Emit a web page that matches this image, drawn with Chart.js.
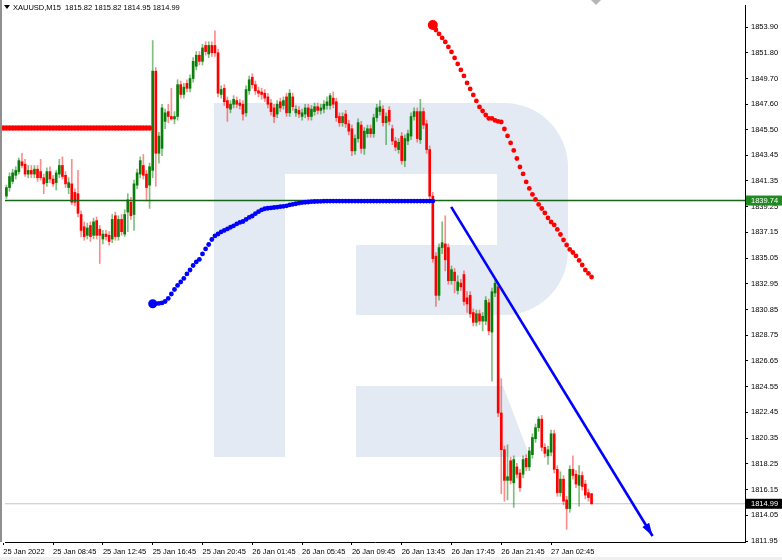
<!DOCTYPE html>
<html>
<head>
<meta charset="utf-8">
<script src="https://cdn.jsdelivr.net/npm/chart.js@4.4.1/dist/chart.umd.min.js"></script>
<style>
  html, body { margin: 0; padding: 0; background: #fff; }
  #wrap { width: 782px; height: 560px; }
</style>
</head>
<body>
<div id="wrap"><canvas id="chart"></canvas></div>
<script>
// XAUUSD M15 candles, bar index 0..189
const opens = [
  1839.3, 1840.1, 1840.8, 1841.3, 1841.8, 1842.1, 1842.9, 1842.7, 1841.9, 1842.2,
  1841.9, 1842.3, 1842.1, 1841.6, 1841.2, 1842.1, 1841.5, 1841.2, 1841.9, 1842.6,
  1841.8, 1840.8, 1841.1, 1840.4, 1840.3, 1838.6, 1837.6, 1836.9, 1837.7, 1836.9,
  1838.1, 1837.4, 1836.6, 1837.0, 1836.9, 1836.6, 1838.5, 1836.8, 1838.2, 1837.0,
  1838.8, 1839.6, 1838.6, 1841.0, 1841.9, 1842.6, 1841.9, 1841.0, 1842.2, 1850.3,
  1843.6, 1844.0, 1846.2, 1847.0, 1846.6, 1846.4, 1846.6, 1849.2, 1848.4, 1849.3,
  1848.9, 1849.7, 1850.7, 1851.6, 1851.1, 1852.4, 1851.7, 1852.4, 1852.4, 1851.8,
  1848.4, 1848.9, 1847.9, 1847.2, 1847.6, 1847.9, 1847.7, 1847.6, 1846.9, 1848.7,
  1849.8, 1849.2, 1848.7, 1848.6, 1848.5, 1848.2, 1847.7, 1847.3, 1846.8, 1847.8,
  1847.5, 1848.2, 1846.9, 1848.2, 1846.9, 1847.1, 1846.6, 1846.8, 1847.3, 1846.6,
  1847.0, 1847.4, 1847.1, 1847.2, 1847.5, 1847.5, 1848.1, 1847.8, 1846.6, 1846.1,
  1846.8, 1846.0, 1845.6, 1843.8, 1844.8, 1845.9, 1844.0, 1845.2, 1845.6, 1845.2,
  1846.5, 1847.0, 1847.2, 1846.1, 1847.1, 1845.6, 1844.6, 1843.9, 1845.0, 1843.0,
  1844.6, 1845.0, 1846.6, 1847.0, 1844.7, 1847.0, 1846.0, 1843.9, 1840.1, 1835.2,
  1832.0, 1835.9, 1836.2, 1835.9, 1833.2, 1833.9, 1832.4, 1833.0, 1833.7, 1831.8,
  1832.0, 1830.6, 1829.8, 1830.5, 1829.9, 1829.9, 1831.4, 1829.0, 1832.2, 1832.7,
  1822.4, 1819.4, 1816.9, 1818.5, 1816.7, 1818.0, 1817.5, 1817.4, 1818.7, 1818.0,
  1819.0, 1820.3, 1821.2, 1821.9, 1819.6, 1818.9, 1819.2, 1820.7, 1817.8, 1815.9,
  1817.0, 1815.3, 1814.6, 1817.8, 1817.4, 1816.5, 1817.3, 1816.6, 1815.9, 1815.82
];
const highs = [
  1840.3, 1841.0, 1842.0, 1842.3, 1842.5, 1843.2, 1843.6, 1843.1, 1842.6, 1842.6,
  1842.6, 1842.6, 1843.1, 1841.9, 1842.4, 1842.5, 1841.8, 1842.2, 1843.1, 1843.3,
  1842.1, 1841.6, 1843.1, 1840.7, 1842.2, 1838.9, 1838.0, 1837.9, 1838.0, 1838.3,
  1838.4, 1837.7, 1837.3, 1837.3, 1837.2, 1838.6, 1838.8, 1838.5, 1838.6, 1839.0,
  1840.3, 1840.0, 1841.4, 1842.3, 1843.3, 1843.5, 1842.2, 1842.8, 1852.8, 1850.6,
  1845.3, 1847.6, 1847.2, 1847.6, 1848.9, 1847.0, 1849.6, 1849.5, 1849.3, 1849.6,
  1850.0, 1851.4, 1851.9, 1851.9, 1852.5, 1852.7, 1852.7, 1852.7, 1853.6, 1852.1,
  1849.1, 1849.2, 1848.2, 1847.9, 1848.3, 1848.2, 1848.0, 1847.9, 1849.1, 1849.9,
  1850.1, 1849.5, 1849.0, 1848.9, 1848.8, 1848.5, 1848.0, 1847.6, 1847.9, 1848.1,
  1848.2, 1848.5, 1848.8, 1848.5, 1847.5, 1847.4, 1847.2, 1847.6, 1847.6, 1847.5,
  1847.7, 1847.7, 1847.6, 1847.9, 1848.2, 1848.5, 1848.6, 1848.1, 1846.9, 1846.9,
  1847.1, 1846.3, 1845.9, 1845.1, 1846.4, 1846.2, 1845.7, 1845.9, 1845.9, 1846.8,
  1847.6, 1847.9, 1847.5, 1846.9, 1847.4, 1845.9, 1844.9, 1844.8, 1845.3, 1845.1,
  1845.5, 1846.9, 1847.3, 1847.3, 1848.0, 1847.3, 1846.3, 1844.2, 1840.4, 1835.5,
  1836.2, 1838.0, 1838.5, 1836.2, 1834.4, 1834.2, 1833.6, 1833.3, 1834.0, 1832.3,
  1832.3, 1830.9, 1830.8, 1830.8, 1830.6, 1831.9, 1831.7, 1832.6, 1833.4, 1833.0,
  1825.2, 1819.7, 1819.8, 1818.8, 1818.9, 1818.3, 1817.8, 1818.9, 1819.0, 1819.6,
  1820.7, 1821.5, 1822.1, 1822.2, 1819.9, 1819.7, 1821.0, 1821.0, 1818.1, 1817.6,
  1817.3, 1815.6, 1818.1, 1818.9, 1817.7, 1818.1, 1817.6, 1816.9, 1816.2, 1815.82
];
const lows = [
  1838.9, 1839.9, 1840.5, 1841.1, 1841.5, 1841.9, 1842.4, 1841.7, 1841.6, 1841.6,
  1841.6, 1841.3, 1841.4, 1840.3, 1840.9, 1841.2, 1840.9, 1840.6, 1841.6, 1841.5,
  1840.8, 1840.3, 1839.4, 1839.3, 1838.4, 1836.8, 1836.5, 1836.6, 1836.4, 1836.6,
  1836.6, 1834.6, 1836.2, 1836.5, 1836.1, 1836.3, 1836.5, 1836.5, 1836.9, 1836.8,
  1837.2, 1838.2, 1837.3, 1840.7, 1841.6, 1841.5, 1839.7, 1839.1, 1841.6, 1840.9,
  1842.8, 1843.4, 1845.6, 1846.1, 1846.3, 1846.0, 1846.3, 1848.1, 1848.1, 1848.6,
  1848.6, 1849.4, 1850.4, 1850.8, 1850.8, 1851.6, 1851.4, 1851.5, 1851.5, 1848.2,
  1848.1, 1847.5, 1846.2, 1846.9, 1847.3, 1847.3, 1847.2, 1846.3, 1846.6, 1848.4,
  1848.9, 1848.4, 1848.2, 1848.0, 1847.8, 1847.3, 1846.7, 1846.1, 1846.5, 1847.0,
  1847.2, 1846.6, 1846.6, 1847.1, 1846.6, 1846.5, 1846.3, 1846.5, 1846.3, 1846.3,
  1846.7, 1846.8, 1846.8, 1846.9, 1847.2, 1847.2, 1847.3, 1846.2, 1845.8, 1845.8,
  1845.7, 1845.1, 1843.4, 1843.5, 1844.5, 1843.6, 1843.5, 1844.9, 1844.9, 1844.9,
  1846.2, 1846.7, 1845.8, 1844.3, 1845.9, 1844.3, 1843.8, 1843.6, 1842.7, 1842.5,
  1844.3, 1844.7, 1846.3, 1844.5, 1844.4, 1845.6, 1843.6, 1839.8, 1834.7, 1831.1,
  1831.6, 1835.4, 1834.0, 1832.9, 1832.9, 1832.2, 1832.1, 1832.4, 1831.2, 1830.6,
  1830.2, 1829.5, 1829.5, 1829.6, 1829.1, 1829.6, 1828.8, 1825.0, 1831.9, 1822.1,
  1815.8, 1815.2, 1815.3, 1816.6, 1814.7, 1817.1, 1816.0, 1817.1, 1817.7, 1817.7,
  1818.7, 1820.0, 1820.9, 1819.3, 1818.8, 1818.2, 1818.9, 1817.5, 1815.6, 1815.6,
  1814.9, 1812.9, 1814.3, 1817.0, 1816.3, 1814.8, 1816.1, 1815.4, 1815.2, 1814.95
];
const closes = [
  1840.1, 1840.8, 1841.7, 1842.0, 1842.2, 1843.0, 1842.6, 1841.9, 1842.2, 1841.9,
  1842.3, 1841.6, 1841.6, 1841.1, 1842.1, 1841.5, 1841.1, 1842.0, 1842.6, 1841.7,
  1841.1, 1841.2, 1839.6, 1839.6, 1838.7, 1837.3, 1836.8, 1837.5, 1836.8, 1838.0,
  1836.9, 1836.9, 1837.0, 1836.8, 1836.4, 1838.2, 1836.8, 1838.2, 1837.2, 1838.6,
  1839.8, 1838.5, 1841.1, 1842.0, 1843.0, 1841.8, 1840.8, 1842.5, 1850.3, 1843.6,
  1845.0, 1847.3, 1846.9, 1846.6, 1846.4, 1846.6, 1849.2, 1848.4, 1849.0, 1848.9,
  1849.7, 1851.1, 1851.6, 1851.1, 1852.2, 1851.9, 1852.4, 1851.8, 1851.8, 1848.5,
  1848.8, 1847.8, 1847.3, 1847.6, 1848.0, 1847.6, 1847.5, 1846.8, 1848.8, 1849.6,
  1849.2, 1848.7, 1848.5, 1848.4, 1848.1, 1847.6, 1847.0, 1846.6, 1847.6, 1847.3,
  1847.9, 1846.9, 1848.5, 1847.4, 1847.2, 1846.8, 1846.9, 1847.3, 1846.6, 1847.2,
  1847.4, 1847.1, 1847.3, 1847.6, 1847.8, 1848.3, 1847.6, 1846.5, 1846.1, 1846.6,
  1846.0, 1845.4, 1843.8, 1844.8, 1846.1, 1844.0, 1845.4, 1845.6, 1845.2, 1846.5,
  1847.3, 1847.4, 1846.1, 1846.6, 1846.2, 1844.6, 1844.1, 1844.5, 1843.0, 1844.8,
  1845.2, 1846.6, 1847.0, 1844.8, 1847.0, 1845.9, 1843.9, 1840.1, 1835.0, 1832.0,
  1835.9, 1836.3, 1834.9, 1833.2, 1834.1, 1833.2, 1833.1, 1832.7, 1831.5, 1831.3,
  1830.5, 1829.8, 1830.5, 1829.9, 1830.3, 1831.6, 1829.1, 1832.3, 1833.0, 1822.4,
  1819.4, 1816.9, 1817.2, 1816.9, 1818.6, 1817.4, 1816.3, 1818.6, 1818.0, 1819.3,
  1820.4, 1821.2, 1821.9, 1819.6, 1819.1, 1819.4, 1820.7, 1817.8, 1815.9, 1817.0,
  1815.2, 1814.6, 1817.8, 1817.3, 1816.6, 1817.3, 1816.4, 1815.7, 1815.5, 1814.99
];

// time axis: a label every 16 bars
const tickBars = [0, 16, 32, 48, 64, 80, 96, 112, 128, 144, 160, 176];
const tickLabels = ["25 Jan 2022", "25 Jan 08:45", "25 Jan 12:45", "25 Jan 16:45", "25 Jan 20:45", "26 Jan 01:45",
                    "26 Jan 05:45", "26 Jan 09:45", "26 Jan 13:45", "26 Jan 17:45", "26 Jan 21:45", "27 Jan 02:45"];
const priceTicks = [1811.95, 1814.05, 1816.15, 1818.25, 1820.35, 1822.45, 1824.55, 1826.65, 1828.75, 1830.85, 1832.95,
                    1835.05, 1837.15, 1839.25, 1841.35, 1843.45, 1845.50, 1847.60, 1849.70, 1851.80, 1853.90];

// red level (bars 0..47)
const levelStart = 0;
const levelDots = [
  1845.66, 1845.66, 1845.66, 1845.66, 1845.66, 1845.66, 1845.66, 1845.66, 1845.66, 1845.66, 1845.66, 1845.66,
  1845.66, 1845.66, 1845.66, 1845.66, 1845.66, 1845.66, 1845.66, 1845.66, 1845.66, 1845.66, 1845.66, 1845.66,
  1845.66, 1845.66, 1845.66, 1845.66, 1845.66, 1845.66, 1845.66, 1845.66, 1845.66, 1845.66, 1845.66, 1845.66,
  1845.66, 1845.66, 1845.66, 1845.66, 1845.66, 1845.66, 1845.66, 1845.66, 1845.66, 1845.66, 1845.66, 1845.66
];
// blue dotted curve (bars 48..138)
const blueStart = 48;
const blueDots = [
  1831.32, 1831.32, 1831.34, 1831.38, 1831.50, 1831.75, 1832.11, 1832.48, 1832.81, 1833.09,
  1833.38, 1833.75, 1834.07, 1834.44, 1834.73, 1834.93, 1835.38, 1835.79, 1836.15, 1836.56,
  1836.85, 1837.01, 1837.18, 1837.30, 1837.42, 1837.56, 1837.68, 1837.83, 1837.95, 1838.03,
  1838.20, 1838.36, 1838.48, 1838.67, 1838.83, 1838.97, 1839.07, 1839.11, 1839.14, 1839.17,
  1839.20, 1839.24, 1839.27, 1839.31, 1839.38, 1839.43, 1839.48, 1839.53, 1839.57, 1839.60,
  1839.62, 1839.65, 1839.66, 1839.67, 1839.68, 1839.69, 1839.70, 1839.70, 1839.70, 1839.70,
  1839.70, 1839.70, 1839.70, 1839.70, 1839.70, 1839.70, 1839.70, 1839.70, 1839.70, 1839.70,
  1839.70, 1839.70, 1839.70, 1839.70, 1839.70, 1839.70, 1839.70, 1839.70, 1839.70, 1839.70,
  1839.70, 1839.70, 1839.70, 1839.70, 1839.70, 1839.70, 1839.70, 1839.70, 1839.70, 1839.70,
  1839.70
];
// red dotted curve (bars 138..189)
const redStart = 138;
const redDots = [
  1854.07, 1853.66, 1853.34, 1853.01, 1852.69, 1852.28, 1851.87, 1851.38, 1850.89, 1850.40,
  1849.91, 1849.34, 1848.85, 1848.36, 1847.87, 1847.38, 1847.05, 1846.72, 1846.44, 1846.44,
  1846.28, 1846.20, 1846.15, 1845.58, 1845.01, 1844.44, 1843.83, 1843.17, 1842.48, 1841.91,
  1841.26, 1840.73, 1840.24, 1839.83, 1839.42, 1839.09, 1838.73, 1838.32, 1837.99, 1837.75,
  1837.38, 1836.97, 1836.52, 1836.11, 1835.75, 1835.50, 1835.22, 1834.85, 1834.48, 1834.07,
  1833.79, 1833.50
];

const greenLevel = 1839.74;
const lastPrice = 1814.99;
const arrowFrom = [143.9, 1839.22];
const arrowTo = [208.6, 1812.36];
const titleText = "XAUUSD,M15  1815.82 1815.82 1814.95 1814.99";

const X_MIN = 0.55, X_MAX = 238.3;
const FONT = { family: "'Liberation Sans', Arial, sans-serif", size: 7.5 };

const up = opens.map((o, i) => closes[i] >= o);
const dots = (start, arr) => arr.map((v, i) => ({ x: start + i, y: v }));
const noPad = s => { s.paddingTop = 0; s.paddingBottom = 0; s.paddingLeft = 0; s.paddingRight = 0; };

// watermark logo behind the candles
const logoPlugin = {
  id: "logo",
  beforeDatasetsDraw(chart) {
    const ctx = chart.ctx, r = 64;
    ctx.save();
    ctx.fillStyle = "#e4eaf3";
    ctx.beginPath();
    ctx.moveTo(214, 103);
    ctx.lineTo(568 - r, 103);
    ctx.arcTo(568, 103, 568, 103 + r, r);
    ctx.lineTo(568, 315 - r);
    ctx.arcTo(568, 315, 568 - r, 315, r);
    ctx.lineTo(356, 315);
    ctx.lineTo(356, 245);
    ctx.lineTo(497, 245);
    ctx.lineTo(497, 174);
    ctx.lineTo(285, 174);
    ctx.lineTo(285, 457);
    ctx.lineTo(214, 457);
    ctx.closePath();
    ctx.fill();
    ctx.beginPath();
    ctx.moveTo(356, 386);
    ctx.lineTo(503, 386);
    ctx.lineTo(530, 457);
    ctx.lineTo(356, 457);
    ctx.closePath();
    ctx.fill();
    ctx.restore();
  }
};

// white page, title, frame, price tags, arrow head
const overlayPlugin = {
  id: "overlay",
  beforeDraw(chart) {
    const ctx = chart.ctx;
    ctx.save();
    ctx.fillStyle = "#fff";
    ctx.fillRect(0, 0, chart.width, chart.height);
    ctx.fillStyle = "#f0f0f0";
    ctx.fillRect(0, 557, chart.width, 3);
    ctx.restore();
  },
  afterDraw(chart) {
    const ctx = chart.ctx, xs = chart.scales.x, ys = chart.scales.y;
    const area = chart.chartArea;
    ctx.save();

    // arrow head
    const x0 = xs.getPixelForValue(arrowFrom[0]), y0 = ys.getPixelForValue(arrowFrom[1]);
    const x1 = xs.getPixelForValue(arrowTo[0]), y1 = ys.getPixelForValue(arrowTo[1]);
    const ang = Math.atan2(y1 - y0, x1 - x0);
    ctx.fillStyle = "#0000ff";
    ctx.beginPath();
    ctx.moveTo(x1, y1);
    ctx.lineTo(x1 - 13 * Math.cos(ang) + 4 * Math.sin(ang), y1 - 13 * Math.sin(ang) - 4 * Math.cos(ang));
    ctx.lineTo(x1 - 13 * Math.cos(ang) - 4 * Math.sin(ang), y1 - 13 * Math.sin(ang) + 4 * Math.cos(ang));
    ctx.closePath();
    ctx.fill();

    // left frame
    ctx.fillStyle = "#8f8f8f";
    ctx.fillRect(0, 0, 2, area.bottom);

    // chart shift marker
    ctx.fillStyle = "#b5b5b5";
    ctx.beginPath();
    ctx.moveTo(591, 0); ctx.lineTo(601, 0); ctx.lineTo(596, 5);
    ctx.closePath();
    ctx.fill();

    // title
    ctx.fillStyle = "#000";
    ctx.beginPath();
    ctx.moveTo(4, 5); ctx.lineTo(10, 5); ctx.lineTo(7, 9);
    ctx.closePath();
    ctx.fill();
    ctx.font = "7.5px 'Liberation Sans', Arial, sans-serif";
    ctx.textBaseline = "middle";
    ctx.fillText(titleText, 13, 7.5);

    // price tags on the axis
    const tag = (v, bg) => {
      const y = ys.getPixelForValue(v);
      ctx.fillStyle = bg;
      ctx.fillRect(area.right + 1, y - 5, 36, 10);
      ctx.fillStyle = "#fff";
      ctx.textAlign = "left";
      ctx.fillText(v.toFixed(2), area.right + 6, y + 0.5);
    };
    tag(greenLevel, "#1f8a1f");
    tag(lastPrice, "#000");
    ctx.restore();
  }
};

new Chart(document.getElementById("chart"), {
  type: "bar",
  data: {
    datasets: [
      {
        label: "wicks",
        data: lows.map((l, i) => ({ x: i, y: [l, highs[i]] })),
        backgroundColor: up.map(u => u ? "rgba(0,128,0,0.5)" : "rgba(255,0,0,0.45)"),
        barThickness: 1,
        grouped: false,
        order: 6
      },
      {
        label: "bodies",
        data: opens.map((o, i) => ({ x: i, y: [o, closes[i]] })),
        backgroundColor: up.map(u => u ? "#0b7d0b" : "#ff0000"),
        barThickness: 2,
        minBarLength: 1,
        grouped: false,
        order: 5
      },
      {
        type: "line",
        label: "price",
        data: [{ x: X_MIN, y: lastPrice }, { x: X_MAX, y: lastPrice }],
        borderColor: "#c4c4c4",
        borderWidth: 1,
        pointRadius: 0,
        order: 7
      },
      {
        type: "line",
        label: "level",
        data: [{ x: X_MIN, y: greenLevel }, { x: X_MAX, y: greenLevel }],
        borderColor: "#176617",
        borderWidth: 1.6,
        pointRadius: 0,
        order: 4
      },
      {
        type: "line",
        label: "red level",
        data: dots(levelStart, levelDots),
        showLine: false,
        pointRadius: 2.7,
        pointBackgroundColor: "#ff0000",
        pointBorderWidth: 0,
        clip: false,
        order: 3
      },
      {
        type: "line",
        label: "blue dots",
        data: dots(blueStart, blueDots),
        showLine: false,
        pointRadius: blueDots.map((v, i) => i === 0 ? 4.5 : 2.4),
        pointBackgroundColor: "#0000ff",
        pointBorderWidth: 0,
        order: 2
      },
      {
        type: "line",
        label: "red dots",
        data: dots(redStart, redDots),
        showLine: false,
        pointRadius: redDots.map((v, i) => i === 0 ? 5 : 2.4),
        pointBackgroundColor: "#ff0000",
        pointBorderWidth: 0,
        order: 2
      },
      {
        type: "line",
        label: "arrow",
        data: [{ x: arrowFrom[0], y: arrowFrom[1] }, { x: arrowTo[0], y: arrowTo[1] }],
        borderColor: "#0000ff",
        borderWidth: 2.6,
        pointRadius: 0,
        order: 1
      }
    ]
  },
  options: {
    responsive: true,
    maintainAspectRatio: false,
    animation: false,
    layout: { padding: { top: 0, left: 0, right: 0, bottom: 0 } },
    plugins: { legend: { display: false }, tooltip: { enabled: false } },
    scales: {
      x: {
        type: "linear",
        min: X_MIN,
        max: X_MAX,
        offset: false,
        afterBuildTicks: s => { s.ticks = tickBars.map(v => ({ value: v })); },
        afterFit: s => { s.height = 18; noPad(s); },
        ticks: {
          callback: v => tickLabels[tickBars.indexOf(v)],
          align: "start",
          autoSkip: false,
          maxRotation: 0,
          padding: 2,
          color: "#000",
          font: FONT
        },
        grid: { drawOnChartArea: false, drawTicks: true, tickLength: 3, color: "#000", offset: false },
        border: { color: "#000" }
      },
      y: {
        position: "right",
        min: 1811.87,
        max: 1855.70,
        afterBuildTicks: s => { s.ticks = priceTicks.map(v => ({ value: v })); },
        afterFit: s => { s.width = 37; noPad(s); },
        ticks: {
          callback: v => v.toFixed(2),
          autoSkip: false,
          padding: 3,
          color: "#000",
          font: FONT
        },
        grid: { drawOnChartArea: false, drawTicks: true, tickLength: 3, color: "#000" },
        border: { color: "#000" }
      }
    }
  },
  plugins: [logoPlugin, overlayPlugin]
});
</script>
</body>
</html>
